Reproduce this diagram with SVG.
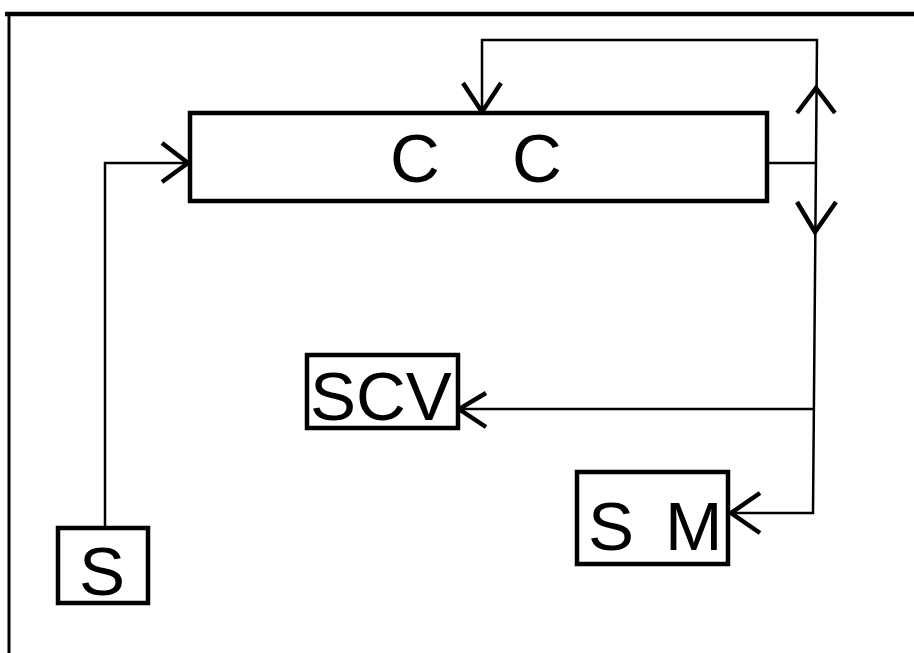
<svg xmlns="http://www.w3.org/2000/svg" width="914" height="653" viewBox="0 0 914 653">
<style>
.box{fill:#fff;stroke:#000;stroke-width:4.5}
.lbl{font-family:"Liberation Sans",Arial,sans-serif;font-size:69px;fill:#000}
.ln{fill:none;stroke:#000;stroke-width:2.5}
.ah{fill:none;stroke:#000;stroke-width:4.5;stroke-linejoin:miter}
</style>
<rect width="914" height="653" fill="#fff"/>
<g id="frame">
<line x1="5" y1="14" x2="914" y2="14" stroke="#000" stroke-width="4.5"/>
<line x1="9" y1="12" x2="9" y2="653" stroke="#000" stroke-width="3"/>
</g>
<g id="connectors">
<polyline class="ln" points="105,528 105,163 188,163"/>
<polyline class="ah" points="162,143 188,163 162,182"/>
<polyline class="ln" points="482,113 482,40 817,40 813,513 731,513"/>
<polyline class="ah" points="463,83 482,112 501,83"/>
<polyline class="ln" points="767,163 816,163"/>
<polyline class="ah" points="797,113 816,88 835,113"/>
<polyline class="ah" points="797,202 815,232 836,202"/>
<polyline class="ln" points="814,409 459,409"/>
<polyline class="ah" points="486,393 459,409 486,427"/>
<polyline class="ah" points="760,493 731,513 760,533"/>
</g>
<g id="CC">
<rect class="box" x="190" y="113" width="577" height="88"/>
<text class="lbl"><tspan x="390" y="182">C</tspan><tspan x="512" y="182">C</tspan></text>
</g>
<g id="SCV">
<rect class="box" x="307" y="355" width="151" height="73"/>
<text class="lbl" x="310" y="420" font-size="67">SCV</text>
</g>
<g id="SM">
<rect class="box" x="577" y="472" width="151" height="92"/>
<text class="lbl"><tspan x="588" y="550">S</tspan><tspan x="665" y="550">M</tspan></text>
</g>
<g id="S">
<rect class="box" x="58" y="528" width="90" height="75"/>
<text class="lbl" x="79" y="595">S</text>
</g>
</svg>
